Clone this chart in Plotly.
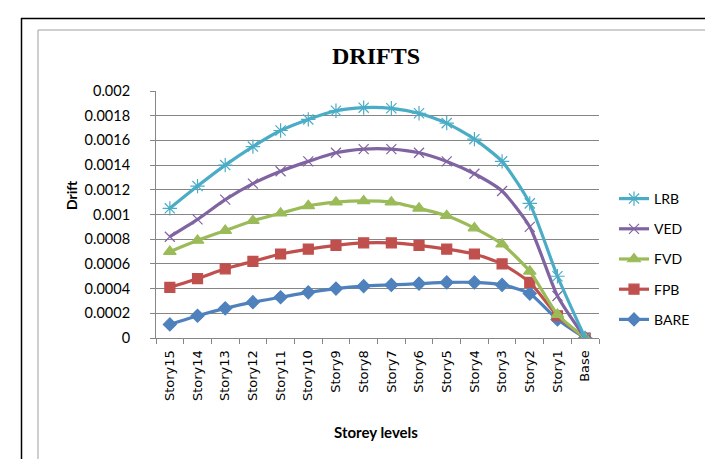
import plotly.graph_objects as go

categories = ["Story15", "Story14", "Story13", "Story12", "Story11", "Story10", "Story9",
              "Story8", "Story7", "Story6", "Story5", "Story4", "Story3", "Story2", "Story1", "Base"]

lrb = [0.00105, 0.00123, 0.00140, 0.00155, 0.00168, 0.00177, 0.00184, 0.001865,
       0.00186, 0.00182, 0.00174, 0.00161, 0.00143, 0.00109, 0.00050, 0.0]
ved = [0.00082, 0.00096, 0.00112, 0.00125, 0.00135, 0.00143, 0.00150, 0.00153,
       0.00153, 0.00150, 0.00143, 0.00133, 0.00119, 0.00090, 0.00034, 0.0]
fvd = [0.00070, 0.00079, 0.00087, 0.00095, 0.00101, 0.00107, 0.00110, 0.00111,
       0.00110, 0.00105, 0.00099, 0.00089, 0.00076, 0.00054, 0.00019, 0.0]
fpb = [0.00041, 0.00048, 0.00056, 0.00062, 0.00068, 0.00072, 0.00075, 0.00077,
       0.00077, 0.00075, 0.00072, 0.00068, 0.00060, 0.00045, 0.00018, 0.0]
bare = [0.00011, 0.00018, 0.00024, 0.00029, 0.00033, 0.00037, 0.00040, 0.00042,
        0.00043, 0.00044, 0.00045, 0.00045, 0.00043, 0.00036, 0.00015, 0.0]

ytick_vals = [0, 0.0002, 0.0004, 0.0006, 0.0008, 0.001, 0.0012, 0.0014, 0.0016, 0.0018, 0.002]
ytick_text = ["0", "0.0002", "0.0004", "0.0006", "0.0008", "0.001", "0.0012", "0.0014",
              "0.0016", "0.0018", "0.002"]

# name, values, colour, marker, size, legend rank
series = [
    ("BARE", bare, "#4F81BD", "diamond", 10, 5),
    ("FPB", fpb, "#C0504D", "square", 10, 4),
    ("FVD", fvd, "#9BBB59", "triangle-up", 11, 3),
    ("VED", ved, "#8064A2", "x-thin-open", 10, 2),
    ("LRB", lrb, "#4BACC6", "asterisk-open", 12, 1),
]

W, H = 713, 459
L, R, T, B = 148, 591, 83, 330

fig = go.Figure()
for name, vals, color, sym, size, rank in series:
    fig.add_trace(go.Scatter(
        x=categories, y=vals, name=name, mode="lines+markers",
        line=dict(color=color, width=3.2, shape="spline", smoothing=0.6),
        marker=dict(symbol=sym, size=size, color=color,
                    line=dict(color=color, width=1.2)),
        legendgroup=name, legendrank=rank,
    ))

def px(x):
    return (x - L) / (R - L)

def py(y):
    return (B - y) / (B - T)

font_ui = "Lato, 'Liberation Sans', sans-serif"

fig.update_layout(
    width=W, height=H,
    margin=dict(l=L, r=W - R, t=T, b=H - B, pad=0),
    paper_bgcolor="white", plot_bgcolor="white",
    font=dict(family=font_ui, size=13, color="black"),
    showlegend=True,
    legend=dict(x=px(606), y=py(175), xanchor="left", yanchor="top",
                traceorder="grouped", tracegroupgap=9,
                font=dict(size=14, family=font_ui), bgcolor="rgba(0,0,0,0)"),
    xaxis=dict(type="category", showline=True, linecolor="#868686", linewidth=1,
               ticks="outside", ticklen=5, tickcolor="#868686", tickson="boundaries",
               tickangle=-90, showgrid=False,
               tickfont=dict(size=13, family="'DejaVu Sans', Verdana, sans-serif"),
               ticklabelstandoff=6,
               range=[-0.5, len(categories) - 0.5]),
    yaxis=dict(range=[0, 0.002], tickvals=ytick_vals, ticktext=ytick_text,
               showline=True, linecolor="#868686", linewidth=1,
               ticks="outside", ticklen=5, tickcolor="#868686",
               showgrid=True, gridcolor="#868686", gridwidth=1, zeroline=False,
               tickfont=dict(size=14.5), ticklabelstandoff=17),
    shapes=[
        dict(type="line", xref="paper", yref="paper", x0=px(13), x1=px(713), y0=py(10.5), y1=py(10.5),
             line=dict(color="black", width=1.5)),
        dict(type="line", xref="paper", yref="paper", x0=px(13.5), x1=px(13.5), y0=py(10), y1=py(459),
             line=dict(color="black", width=1.5)),
        dict(type="rect", xref="paper", yref="paper", x0=px(30), x1=px(708), y0=py(22), y1=py(455),
             line=dict(color="#A0A0A0", width=1)),
    ],
    annotations=[
        dict(text="<b>DRIFTS</b>", xref="paper", yref="paper", x=px(368), y=py(48),
             showarrow=False, font=dict(family="'Liberation Serif', serif", size=24),
             xanchor="center", yanchor="middle"),
        dict(text="<b>Drift</b>", xref="paper", yref="paper", x=px(63), y=py(188),
             showarrow=False, textangle=-90, font=dict(size=14),
             xanchor="center", yanchor="middle"),
        dict(text="<b>Storey levels</b>", xref="paper", yref="paper", x=px(368), y=py(424),
             showarrow=False, font=dict(size=15),
             xanchor="center", yanchor="middle"),
    ],
)

fig.write_html("out.html")
